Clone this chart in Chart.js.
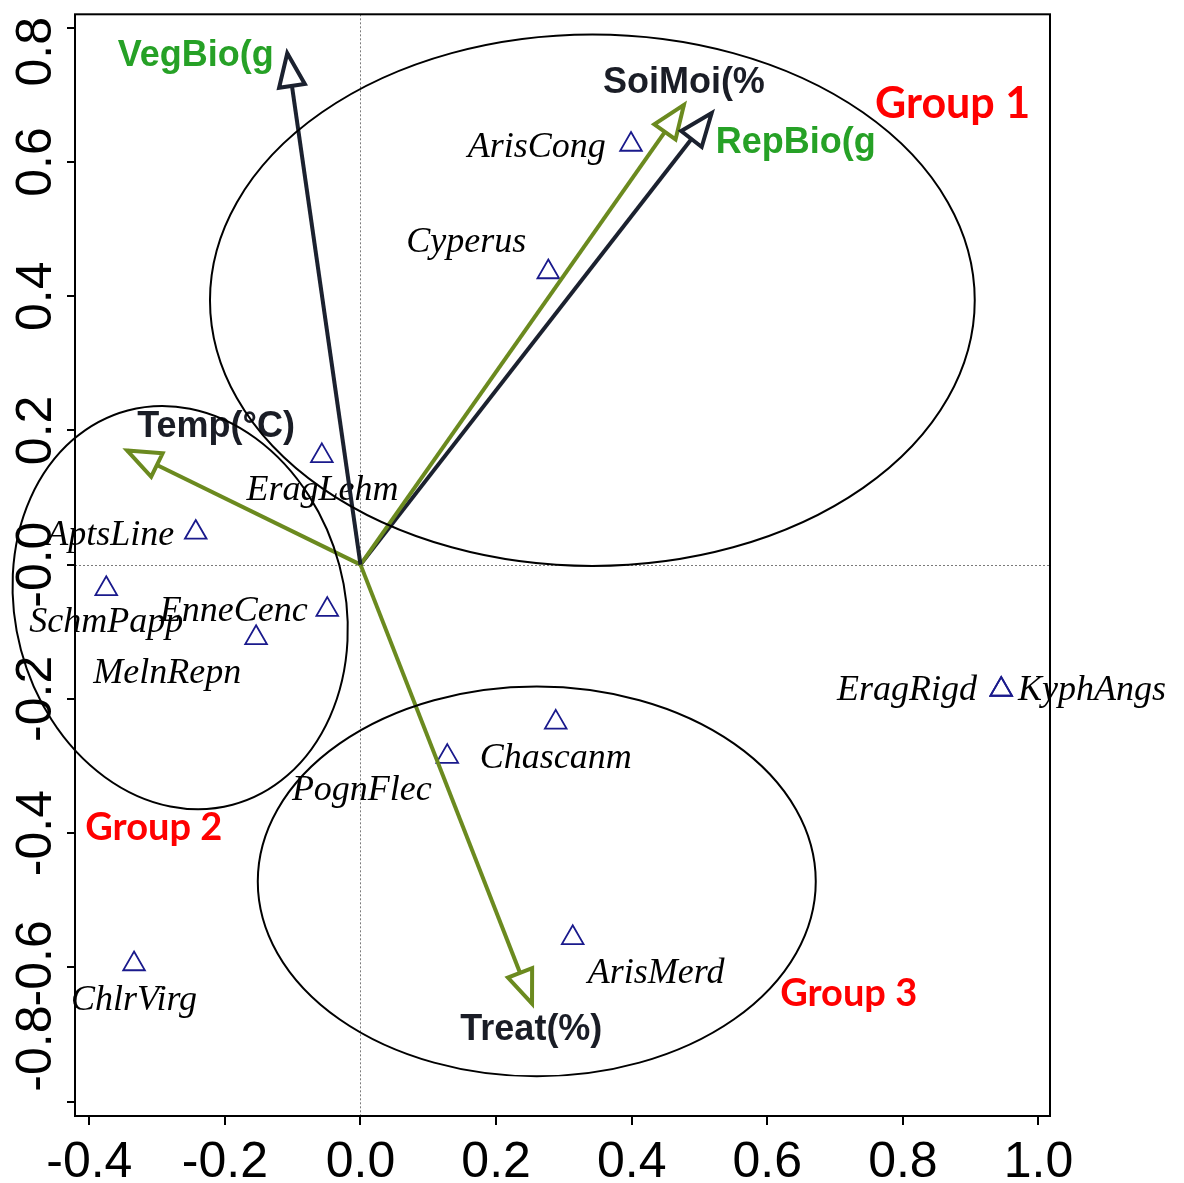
<!DOCTYPE html>
<html>
<head>
<meta charset="utf-8">
<title>CCA biplot</title>
<script src="https://cdn.jsdelivr.net/npm/chart.js@4.4.1/dist/chart.umd.min.js"></script>
<style>
  html, body { margin: 0; padding: 0; background: #fff; }
  canvas { display: block; }
</style>
</head>
<body>
<canvas id="ccaBiplot" width="1184" height="1183"></canvas>
<script>
// Species scores on CCA axis 1 / axis 2
const speciesNames = ["ArisCong", "Cyperus", "EragLehm", "AptsLine", "SchmPapp", "EnneCenc", "MelnRepn",
                      "Chascanm", "PognFlec", "ArisMerd", "ChlrVirg", "EragRigd", "KyphAngs"];
const speciesAxis1 = [0.399, 0.277, -0.057, -0.243, -0.375, -0.049, -0.154, 0.288, 0.128, 0.313, -0.334, 0.945, 0.945];
const speciesAxis2 = [0.626, 0.436, 0.162, 0.048, -0.036, -0.067, -0.109, -0.235, -0.286, -0.556, -0.595, -0.186, -0.186];

// Environmental variables (arrow tips)
const envNames = ["VegBio(g", "SoiMoi(%", "RepBio(g", "Temp(°C)", "Treat(%)"];
const envAxis1 = [-0.108, 0.477, 0.518, -0.344, 0.253];
const envAxis2 = [0.762, 0.685, 0.673, 0.170, -0.654];

// Species groups
const groupNames = ["Group 1", "Group 2", "Group 3"];

// Axis ticks
const xTicks = [-0.4, -0.2, 0.0, 0.2, 0.4, 0.6, 0.8, 1.0];
const xTickLabels = ["-0.4", "-0.2", "0.0", "0.2", "0.4", "0.6", "0.8", "1.0"];
const yTicks = [-0.8, -0.6, -0.4, -0.2, 0.0, 0.2, 0.4, 0.6, 0.8];
const yTickLabels = ["-0.8", "-0.6", "-0.4", "-0.2", "-0.0", "0.2", "0.4", "0.6", "0.8"];

// ---- placement and styling ----
// label anchors in axis units: [centre x, baseline y]
const speciesLabelAt = [
  [0.260, 0.607], [0.156, 0.466], [-0.056, 0.096], [-0.369, 0.029], [-0.375, -0.101], [-0.187, -0.084],
  [-0.285, -0.176], [0.288, -0.303], [0.002, -0.350], [0.436, -0.624], [-0.334, -0.664], [0.806, -0.202],
  [1.079, -0.202]
];
const envLabelAt = [[-0.243, 0.743], [0.477, 0.703], [0.642, 0.614], [-0.213, 0.190], [0.252, -0.709]];

const DARK = "#1b212f";
const OLIVE = "#6b8a1f";
const GREEN = "#26a126";
const INK = "#1a1d26";
const envColor = [DARK, OLIVE, DARK, OLIVE, OLIVE];
const envLabelColor = [GREEN, INK, GREEN, INK, INK];

// group ellipses: centre and semi-axes in axis units, tilt in radians
const groupShapes = [
  { cx: 0.342, cy: 0.394, rx: 0.564, ry: 0.396, tilt: 0 },
  { cx: -0.266, cy: -0.064, rx: 0.243, ry: 0.304, tilt: -0.26 },
  { cx: 0.260, cy: -0.472, rx: 0.4115, ry: 0.2904, tilt: 0 }
];
// group label anchors: [left x, baseline y, font px]
const groupLabelAt = [[0.759, 0.666, 43], [-0.406, -0.410, 38], [0.619, -0.657, 38]];

// pixel nudges for the y tick labels (bottom to top)
const yTickLabelNudge = [-53, -4, 0, 0, 0, 0, 0, 0, 24];

function drawHead(ctx, px, py, ox, oy, color) {
  const dx = px - ox, dy = py - oy;
  const len = Math.hypot(dx, dy);
  const ux = dx / len, uy = dy / len;
  const L = 33, W = 13;
  const bx = px - ux * L, by = py - uy * L;
  ctx.beginPath();
  ctx.moveTo(px, py);
  ctx.lineTo(bx - uy * W, by + ux * W);
  ctx.lineTo(bx + uy * W, by - ux * W);
  ctx.closePath();
  ctx.fillStyle = "#fff";
  ctx.fill();
  ctx.strokeStyle = color;
  ctx.lineWidth = 4;
  ctx.lineJoin = "miter";
  ctx.stroke();
}

const biplotDecor = {
  id: "biplotDecor",
  beforeDatasetsDraw(chart) {
    const { ctx, chartArea: a, scales: { x, y } } = chart;
    ctx.save();
    // dotted zero lines
    const x0 = Math.round(x.getPixelForValue(0)) + 0.5;
    const y0 = Math.round(y.getPixelForValue(0)) + 0.5;
    ctx.strokeStyle = "#7a7a7a";
    ctx.lineWidth = 1;
    ctx.setLineDash([2, 2]);
    ctx.beginPath();
    ctx.moveTo(x0, a.top); ctx.lineTo(x0, a.bottom);
    ctx.moveTo(a.left, y0); ctx.lineTo(a.right, y0);
    ctx.stroke();
    ctx.setLineDash([]);

    // species names
    ctx.font = "italic 36px 'Liberation Serif', 'Times New Roman', serif";
    ctx.fillStyle = "#000";
    ctx.textAlign = "center";
    ctx.textBaseline = "alphabetic";
    speciesNames.forEach((name, i) => {
      const [lx, ly] = speciesLabelAt[i];
      ctx.fillText(name, x.getPixelForValue(lx), y.getPixelForValue(ly));
    });
    ctx.restore();
  },
  afterDatasetsDraw(chart) {
    const { ctx, scales: { x, y } } = chart;
    ctx.save();
    const ox = x.getPixelForValue(0), oy = y.getPixelForValue(0);
    envNames.forEach((name, i) => {
      drawHead(ctx, x.getPixelForValue(envAxis1[i]), y.getPixelForValue(envAxis2[i]), ox, oy, envColor[i]);
    });

    // variable names
    ctx.font = "bold 36px 'Liberation Sans', Arial, sans-serif";
    ctx.textAlign = "center";
    ctx.textBaseline = "alphabetic";
    envNames.forEach((name, i) => {
      ctx.fillStyle = envLabelColor[i];
      ctx.fillText(name, x.getPixelForValue(envLabelAt[i][0]), y.getPixelForValue(envLabelAt[i][1]));
    });

    // group ellipses
    const pxPerX = Math.abs(x.getPixelForValue(1) - x.getPixelForValue(0));
    const pxPerY = Math.abs(y.getPixelForValue(1) - y.getPixelForValue(0));
    ctx.strokeStyle = "#000";
    ctx.lineWidth = 2;
    groupShapes.forEach(g => {
      ctx.beginPath();
      ctx.ellipse(x.getPixelForValue(g.cx), y.getPixelForValue(g.cy), g.rx * pxPerX, g.ry * pxPerY, g.tilt, 0, Math.PI * 2);
      ctx.stroke();
    });

    // group names
    ctx.fillStyle = "#ff0000";
    ctx.textAlign = "left";
    groupNames.forEach((name, i) => {
      const [gx, gy, size] = groupLabelAt[i];
      ctx.font = "bold " + size + "px Lato, 'Open Sans', sans-serif";
      ctx.fillText(name, x.getPixelForValue(gx), y.getPixelForValue(gy));
    });
    ctx.restore();
  },
  afterDraw(chart) {
    const { ctx, chartArea: a, scales: { x, y } } = chart;
    ctx.save();
    // frame
    ctx.strokeStyle = "#000";
    ctx.lineWidth = 2;
    ctx.strokeRect(a.left, a.top, a.right - a.left, a.bottom - a.top);

    // tick labels
    ctx.fillStyle = "#000";
    ctx.font = "50px 'Liberation Sans', Arial, sans-serif";
    ctx.textAlign = "center";
    ctx.textBaseline = "alphabetic";
    xTicks.forEach((v, i) => {
      ctx.fillText(xTickLabels[i], x.getPixelForValue(v), a.bottom + 61);
    });
    yTicks.forEach((v, i) => {
      ctx.save();
      ctx.translate(a.left - 24, y.getPixelForValue(v) + yTickLabelNudge[i]);
      ctx.rotate(-Math.PI / 2);
      ctx.fillText(yTickLabels[i], 0, 0);
      ctx.restore();
    });
    ctx.restore();
  }
};

const envDatasets = envNames.map((name, i) => ({
  type: "line",
  label: name,
  data: [{ x: 0, y: 0 }, { x: envAxis1[i], y: envAxis2[i] }],
  borderColor: envColor[i],
  borderWidth: 4,
  pointRadius: 0,
  fill: false,
  tension: 0,
  order: 1
}));

new Chart(document.getElementById("ccaBiplot").getContext("2d"), {
  type: "scatter",
  data: {
    datasets: [
      {
        label: "Species",
        data: speciesNames.map((n, i) => ({ x: speciesAxis1[i], y: speciesAxis2[i] })),
        pointStyle: "triangle",
        pointRadius: 12.5,
        pointHoverRadius: 12.5,
        borderWidth: 1.8,
        borderColor: "#1a1a8c",
        backgroundColor: "rgba(0,0,0,0)",
        order: 2
      },
      ...envDatasets
    ]
  },
  options: {
    responsive: false,
    animation: false,
    devicePixelRatio: 1,
    layout: { padding: { left: 0, top: 8, right: 134, bottom: 0 } },
    plugins: { legend: { display: false }, tooltip: { enabled: false } },
    scales: {
      x: {
        type: "linear",
        min: -0.4211,
        max: 1.0170,
        ticks: { display: false, stepSize: 0.2, includeBounds: false },
        grid: { display: true, drawOnChartArea: false, drawTicks: true, tickLength: 9, color: "#000", lineWidth: 2 },
        border: { display: false },
        afterFit(scale) { scale.height = 67; }
      },
      y: {
        type: "linear",
        min: -0.8215,
        max: 0.8200,
        ticks: { display: false, stepSize: 0.2, includeBounds: false },
        grid: { display: true, drawOnChartArea: false, drawTicks: true, tickLength: 8, color: "#000", lineWidth: 2 },
        border: { display: false },
        afterFit(scale) { scale.width = 75; }
      }
    }
  },
  plugins: [biplotDecor]
});
</script>
</body>
</html>
